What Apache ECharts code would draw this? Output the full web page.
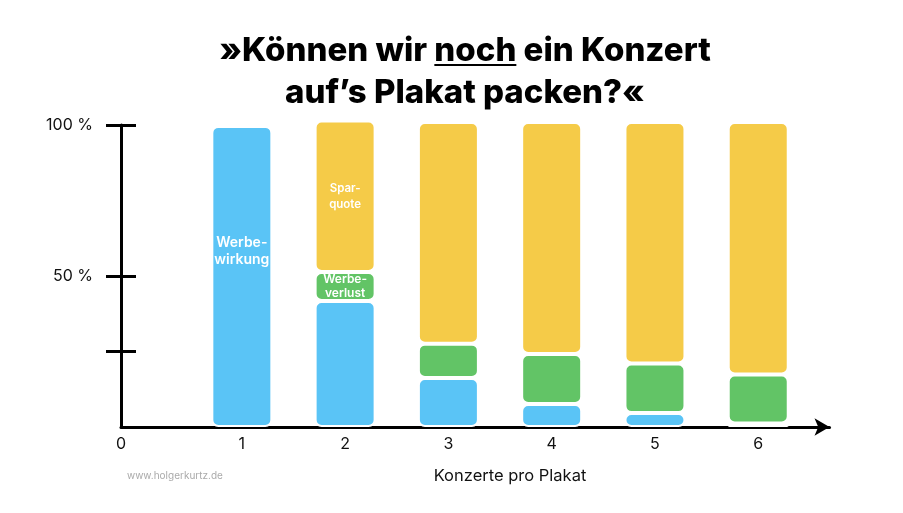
<!DOCTYPE html>
<html>
<head>
<meta charset="utf-8">
<script src="https://cdn.jsdelivr.net/npm/echarts@6/dist/echarts.min.js"></script>
<style>
  html, body { margin: 0; padding: 0; background: #fff; }
  #chart { width: 903px; height: 513px; }
</style>
</head>
<body>
<div id="chart"></div>
<script>
// Daten (Anteile in %)
var konzerte = [1, 2, 3, 4, 5, 6];
var werbewirkung = [99.7, 41.7, 16.2, 7.6, 4.6, 1.2];
var werbeverlust = [null, 9.6, 11.4, 16.6, 16.4, 16.2];
var sparquote = [null, 50.2, 73.4, 76.8, 80.0, 83.6];

var labelsWirkung = ['Werbe-\nwirkung', '', '', '', '', ''];
var labelsVerlust = ['', 'Werbe-\nverlust', '', '', '', ''];
var labelsSpar = ['', 'Spar-\nquote', '', '', '', ''];

var xTicks = [-0.17, 1, 2, 3, 4, 5, 6];
var yTicks = [25, 50, 100];
var yLabels = [50, 100];

var FONT = 'Inter, "Noto Sans", sans-serif';

var mychart = echarts.init(document.getElementById('chart'));

// Wert zuerst, Konzertanzahl als zweite Dimension (damit der Stack auf y rechnet)
function build(values, labels, fontSize, lineHeight) {
    var out = [];
    for (var i = 0; i < values.length; i++) {
        var item = { value: [values[i], konzerte[i]] };
        if (labels[i]) {
            item.label = {
                show: true,
                position: 'inside',
                formatter: labels[i],
                color: '#fff',
                fontFamily: FONT,
                fontWeight: 600,
                fontSize: fontSize,
                lineHeight: lineHeight,
                offset: i === 0 ? [0, -25] : [0, 0]
            };
        }
        out.push(item);
    }
    return out;
}

function barSeries(name, color, data) {
    return {
        name: name,
        type: 'bar',
        stack: 'gesamt',
        barWidth: 61,
        clip: false,
        encode: { x: 1, y: 0 },
        itemStyle: {
            color: color,
            borderColor: '#fff',
            borderWidth: 2,
            borderRadius: 6
        },
        data: data
    };
}

var option = {
    backgroundColor: '#fff',
    animation: false,
    title: [{
        left: 460,
        top: 25,
        textAlign: 'center',
        text: '{a|»Können wir }{u|noch}{a| ein Konzert}\n{a|auf’s Plakat packen?«}',
        textStyle: {
            rich: {
                a: { fontFamily: FONT, fontWeight: 800, fontSize: 33, lineHeight: 42, color: '#000' },
                u: {
                    fontFamily: FONT, fontWeight: 800, fontSize: 33, lineHeight: 42, color: '#000',
                    backgroundColor: {
                        type: 'linear', x: 0, y: 0, x2: 0, y2: 1,
                        colorStops: [
                            { offset: 0, color: 'rgba(0,0,0,0)' },
                            { offset: 0.9, color: 'rgba(0,0,0,0)' },
                            { offset: 0.9, color: '#000' },
                            { offset: 0.96, color: '#000' },
                            { offset: 0.96, color: 'rgba(0,0,0,0)' },
                            { offset: 1, color: 'rgba(0,0,0,0)' }
                        ]
                    }
                }
            }
        }
    }, {
        text: 'Konzerte pro Plakat',
        left: 505,
        top: 463,
        textAlign: 'center',
        textStyle: { fontFamily: FONT, fontWeight: 400, fontSize: 16.5, color: '#111' }
    }, {
        text: 'www.holgerkurtz.de',
        left: 122,
        top: 466,
        textStyle: { fontFamily: FONT, fontWeight: 400, fontSize: 10, color: '#aaa' }
    }],
    grid: { left: 121, right: 73.5, top: 125, bottom: 86, containLabel: false },
    xAxis: {
        type: 'value',
        min: -0.17,
        max: 6.69,
        splitLine: { show: false },
        axisLine: {
            show: true,
            onZero: false,
            symbol: ['none', 'arrow'],
            symbolSize: [13, 15],
            lineStyle: { color: '#000', width: 3 }
        },
        axisTick: { show: false },
        axisLabel: {
            customValues: xTicks,
            margin: 9,
            fontFamily: FONT,
            fontSize: 16,
            color: '#111',
            formatter: function (v) { return v < 0.5 ? '0' : String(Math.round(v)); }
        }
    },
    yAxis: [{
        type: 'value',
        position: 'left',
        min: 0,
        max: 100,
        splitLine: { show: false },
        axisLine: { show: true, onZero: false, lineStyle: { color: '#000', width: 3 } },
        axisTick: {
            show: true,
            customValues: yTicks,
            length: 15,
            lineStyle: { color: '#000', width: 3 }
        },
        axisLabel: {
            customValues: yLabels,
            margin: 28,
            fontFamily: FONT,
            fontSize: 16,
            color: '#111',
            formatter: function (v) { return v + ' %'; }
        }
    }, {
        type: 'value',
        position: 'left',
        min: 0,
        max: 100,
        splitLine: { show: false },
        axisLine: { show: false, onZero: false },
        axisTick: {
            show: true,
            inside: true,
            customValues: yTicks,
            length: 15,
            lineStyle: { color: '#000', width: 3 }
        },
        axisLabel: { show: false }
    }],
    series: [
        barSeries('Werbewirkung', '#5AC4F6', build(werbewirkung, labelsWirkung, 14, 17)),
        barSeries('Werbeverlust', '#62C466', build(werbeverlust, labelsVerlust, 12, 14)),
        barSeries('Sparquote', '#F5CB48', build(sparquote, labelsSpar, 11.5, 16))
    ]
};

mychart.setOption(option);
</script>
</body>
</html>
